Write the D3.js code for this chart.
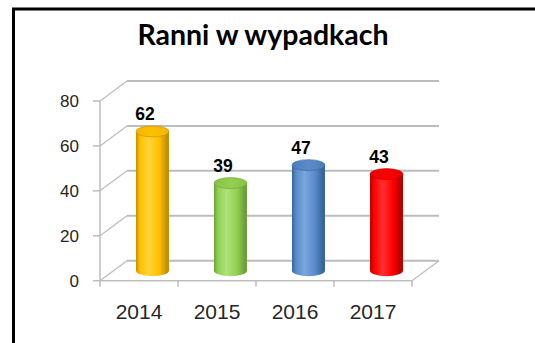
<!DOCTYPE html>
<html>
<head>
<meta charset="utf-8">
<script src="https://cdn.jsdelivr.net/npm/d3@7"></script>
<style>
  html, body { margin: 0; padding: 0; background: #fff; }
  svg { display: block; }
</style>
</head>
<body>
<svg id="chart" width="535" height="343"></svg>
<script>
// Ranni w wypadkach — 3D cylinder column chart
const years = ["2014", "2015", "2016", "2017"];
const injured = [62, 39, 47, 43];
const yTicks = [0, 20, 40, 60, 80];
const barColors = [
  { dark: "#C48F00", mid: "#FFC000", light: "#FFD43A", cap: "#F2B600" },
  { dark: "#6E9F3A", mid: "#92D050", light: "#AEE27A", cap: "#86C247" },
  { dark: "#3A659A", mid: "#5A8ACA", light: "#7AA6DE", cap: "#4C7DBA" },
  { dark: "#B80000", mid: "#FF0000", light: "#FF3030", cap: "#E80000" }
];

const svg = d3.select("#chart");
const W = 535, H = 343;

// outer frame
svg.append("rect")
  .attr("x", 13.5).attr("y", 9).attr("width", W + 20).attr("height", H + 20)
  .attr("fill", "none").attr("stroke", "#000").attr("stroke-width", 3);

// title
svg.append("text")
  .attr("x", 263).attr("y", 45)
  .attr("text-anchor", "middle")
  .attr("font-family", "Lato, 'Open Sans', sans-serif")
  .attr("font-weight", "bold").attr("font-size", 28.5)
  .attr("fill", "#000")
  .text("Ranni w wypadkach");

// plot geometry
const x = d3.scaleBand().domain(years).range([100, 412]);
const y = d3.scaleLinear().domain([0, 80]).range([280.7, 101]);
const DX = 27, DY = -20;   // depth of the 3D box
const gridColor = "#BDBDBD";

const g = svg.append("g");

// back wall gridlines and side-wall diagonals
yTicks.forEach(t => {
  const yy = y(t);
  g.append("line")
    .attr("x1", x.range()[0] + DX).attr("x2", x.range()[1] + DX)
    .attr("y1", yy + DY).attr("y2", yy + DY)
    .attr("stroke", gridColor).attr("stroke-width", 2);
  g.append("line")
    .attr("x1", x.range()[0]).attr("y1", yy)
    .attr("x2", x.range()[0] + DX).attr("y2", yy + DY)
    .attr("stroke", gridColor).attr("stroke-width", 1.3);
});

// floor: front edge and right diagonal
g.append("line")
  .attr("x1", x.range()[0]).attr("x2", x.range()[1])
  .attr("y1", y(0)).attr("y2", y(0))
  .attr("stroke", gridColor).attr("stroke-width", 1.5);
g.append("line")
  .attr("x1", x.range()[1]).attr("y1", y(0))
  .attr("x2", x.range()[1] + DX).attr("y2", y(0) + DY)
  .attr("stroke", gridColor).attr("stroke-width", 1.3);

// vertical axis with ticks
g.append("line")
  .attr("x1", x.range()[0]).attr("x2", x.range()[0])
  .attr("y1", y(80)).attr("y2", y(0))
  .attr("stroke", gridColor).attr("stroke-width", 1.5);
yTicks.forEach(t => {
  g.append("line")
    .attr("x1", x.range()[0] - 7).attr("x2", x.range()[0])
    .attr("y1", y(t)).attr("y2", y(t))
    .attr("stroke", gridColor).attr("stroke-width", 1.5);
  g.append("text")
    .attr("x", 79).attr("y", y(t) + 6)
    .attr("text-anchor", "end")
    .attr("font-family", "'Liberation Sans', Arial, sans-serif")
    .attr("font-size", 17).attr("fill", "#262626")
    .text(t);
});

// category ticks along the floor's front edge
const bounds = years.map(d => x(d)).concat([x.range()[1]]);
bounds.forEach(bx => {
  g.append("line")
    .attr("x1", bx).attr("x2", bx)
    .attr("y1", y(0)).attr("y2", y(0) + 6)
    .attr("stroke", gridColor).attr("stroke-width", 1.5);
});

// category labels
years.forEach(d => {
  g.append("text")
    .attr("x", x(d) + x.bandwidth() / 2).attr("y", 319)
    .attr("text-anchor", "middle")
    .attr("font-family", "'Liberation Sans', Arial, sans-serif")
    .attr("font-size", 21).attr("fill", "#262626")
    .text(d);
});

// gradients for cylinder shading
const defs = svg.append("defs");
barColors.forEach((c, i) => {
  const lg = defs.append("linearGradient")
    .attr("id", "body" + i).attr("x1", "0").attr("x2", "1").attr("y1", "0").attr("y2", "0");
  [[0, c.dark], [0.12, c.mid], [0.38, c.light], [0.7, c.mid], [0.93, c.dark], [1, c.dark]]
    .forEach(([o, col]) => lg.append("stop").attr("offset", o).attr("stop-color", col));
  const cg = defs.append("linearGradient")
    .attr("id", "cap" + i).attr("x1", "0").attr("x2", "1").attr("y1", "0").attr("y2", "0");
  [[0, c.cap], [0.5, c.mid], [1, c.cap]]
    .forEach(([o, col]) => cg.append("stop").attr("offset", o).attr("stop-color", col));
});

// cylinders
const RX = 16.5, RY = 5.5;
years.forEach((d, i) => {
  const v = injured[i];
  const cx = x(d) + x.bandwidth() / 2 + DX / 2;
  const yTop = y(v) + DY / 2;
  const yBase = y(0) + DY / 2;
  const bar = g.append("g");
  bar.append("path")
    .attr("d", `M${cx - RX},${yTop} L${cx - RX},${yBase} A${RX},${RY} 0 0 0 ${cx + RX},${yBase} L${cx + RX},${yTop} Z`)
    .attr("fill", `url(#body${i})`);
  bar.append("ellipse")
    .attr("cx", cx).attr("cy", yTop).attr("rx", RX).attr("ry", RY)
    .attr("fill", `url(#cap${i})`)
    .attr("stroke", barColors[i].dark).attr("stroke-width", 0.6);
  // value label
  g.append("text")
    .attr("x", x(d) + x.bandwidth() / 2 + 6).attr("y", y(v) - 21)
    .attr("text-anchor", "middle")
    .attr("font-family", "'Liberation Sans', Arial, sans-serif")
    .attr("font-weight", "bold").attr("font-size", 17.5).attr("fill", "#000")
    .text(v);
});
</script>
</body>
</html>
